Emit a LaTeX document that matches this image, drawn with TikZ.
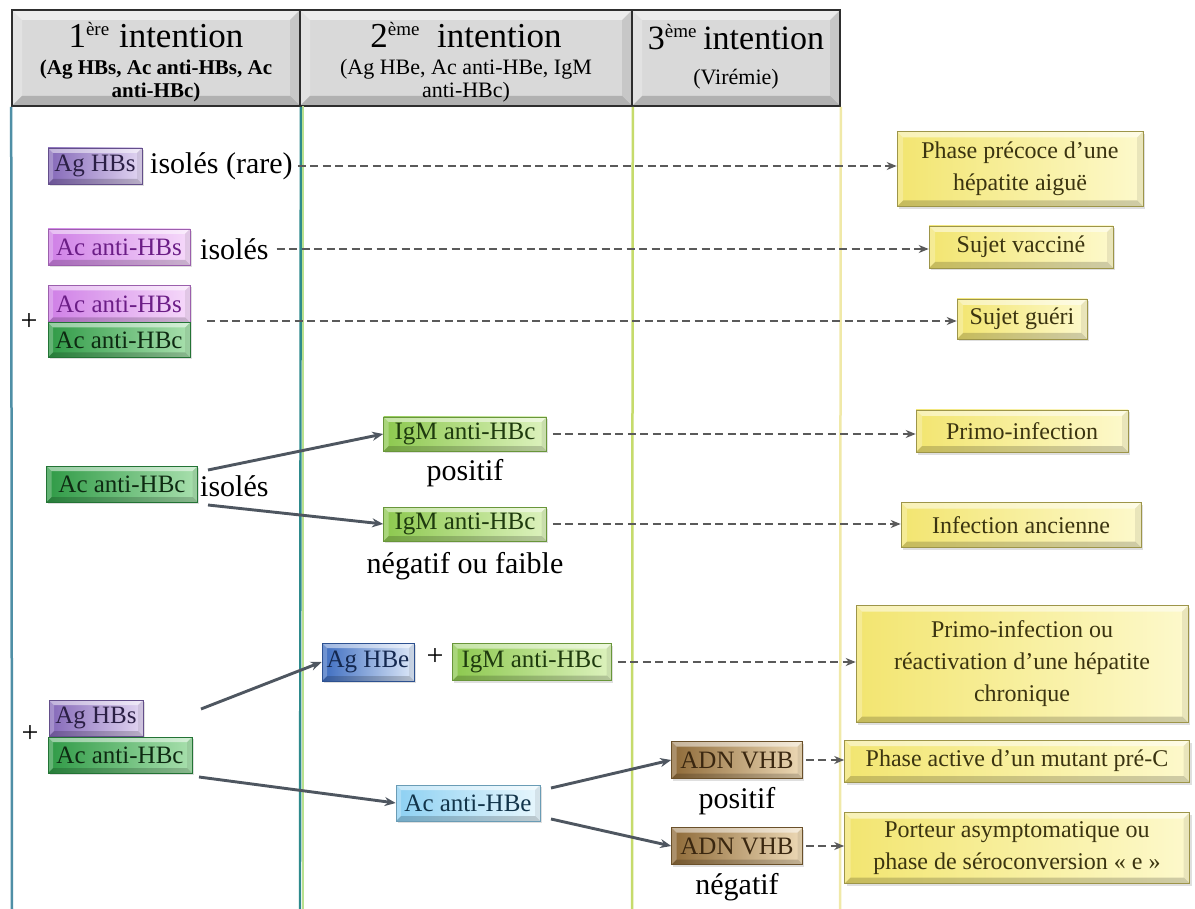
\documentclass[tikz,border=0pt]{standalone}
\usepackage{fontspec}
\usepackage{graphicx}
\setmainfont{Liberation Serif}
\usetikzlibrary{arrows.meta,shadows}

\definecolor{hdrgray}{HTML}{D9D9D9}
\definecolor{hdrline}{HTML}{2E2E2E}
\definecolor{purpL}{HTML}{8468B8}\definecolor{purpR}{HTML}{E2D6F2}\definecolor{purpT}{HTML}{2B1F45}
\definecolor{pinkL}{HTML}{CF7FE6}\definecolor{pinkR}{HTML}{F6DAFA}\definecolor{pinkT}{HTML}{6B1D86}
\definecolor{grnL}{HTML}{2F9A46}\definecolor{grnR}{HTML}{A9E0AE}\definecolor{grnT}{HTML}{0E2A12}
\definecolor{limeL}{HTML}{8CC84E}\definecolor{limeR}{HTML}{DDF2BE}\definecolor{limeT}{HTML}{1E3A0E}
\definecolor{bluL}{HTML}{3C6CC0}\definecolor{bluR}{HTML}{DDE8F8}\definecolor{bluT}{HTML}{14284F}
\definecolor{lbluL}{HTML}{8DD0F2}\definecolor{lbluR}{HTML}{E8F7FD}\definecolor{lbluT}{HTML}{12344A}
\definecolor{brnL}{HTML}{8E6A38}\definecolor{brnR}{HTML}{EDD9B6}\definecolor{brnT}{HTML}{3A2710}
\definecolor{yelL}{HTML}{F2E570}\definecolor{yelR}{HTML}{FDF9CC}\definecolor{yelT}{HTML}{3B3410}
\definecolor{lineA}{HTML}{4F8FA6}
\definecolor{lineB}{HTML}{2E8A8C}
\definecolor{lineBg}{HTML}{B9E08E}
\definecolor{lineC}{HTML}{C6DB6C}
\definecolor{lineD}{HTML}{F0E9A8}
\definecolor{arrg}{HTML}{5A5A5A}
\definecolor{arrs}{HTML}{4E5660}

\tikzset{
  bev/.style={path picture={
    \fill[white,opacity=.5] (path picture bounding box.north west) -- (path picture bounding box.north east) -- ([shift={(-#1,-#1)}]path picture bounding box.north east) -- ([shift={(#1,-#1)}]path picture bounding box.north west) -- cycle;
    \fill[white,opacity=.25] (path picture bounding box.north west) -- (path picture bounding box.south west) -- ([shift={(#1,#1)}]path picture bounding box.south west) -- ([shift={(#1,-#1)}]path picture bounding box.north west) -- cycle;
    \fill[black,opacity=.18] (path picture bounding box.south west) -- (path picture bounding box.south east) -- ([shift={(-#1,#1)}]path picture bounding box.south east) -- ([shift={(#1,#1)}]path picture bounding box.south west) -- cycle;
    \fill[black,opacity=.08] (path picture bounding box.north east) -- (path picture bounding box.south east) -- ([shift={(-#1,#1)}]path picture bounding box.south east) -- ([shift={(-#1,-#1)}]path picture bounding box.north east) -- cycle;
  }},
  bev/.default=5pt,
  hdr/.style={rectangle, fill=hdrgray, draw=hdrline, line width=1.6pt, minimum height=96pt, inner sep=0pt, bev=10pt},
  htitle/.style={anchor=base, inner sep=0pt, font=\fontsize{35}{40}\selectfont},
  hsubb/.style={anchor=base, inner sep=0pt, font=\fontsize{21}{23}\selectfont\bfseries},
  hsub/.style={anchor=base, inner sep=0pt, font=\fontsize{22}{24}\selectfont},
  tagbox/.style n args={3}{rectangle, left color=#1, right color=#2, draw=#1!75!black, line width=0.6pt, text=#3, inner sep=0pt, minimum height=36pt, font=\fontsize{25}{27}\selectfont, bev=5pt, drop shadow={opacity=.25, shadow xshift=1.5pt, shadow yshift=-2pt}},
  tagP/.style={tagbox={purpL}{purpR}{purpT}},
  tagK/.style={tagbox={pinkL}{pinkR}{pinkT}},
  tagG/.style={tagbox={grnL}{grnR}{grnT}},
  tagL/.style={tagbox={limeL}{limeR}{limeT}},
  tagB/.style={tagbox={bluL}{bluR}{bluT}},
  tagC/.style={tagbox={lbluL}{lbluR}{lbluT}},
  tagN/.style={tagbox={brnL}{brnR}{brnT}},
  res/.style={rectangle, left color=yelL, right color=yelR, draw=yelL!65!black, line width=0.6pt, text=yelT, inner sep=0pt, align=center, font=\fontsize{24}{32}\selectfont, bev=6pt, drop shadow={opacity=.25, shadow xshift=2pt, shadow yshift=-2.5pt}},
  free/.style={inner sep=0pt, font=\fontsize{30}{32}\selectfont, text=black},
  dsh/.style={draw=arrg, line width=2.8pt, dash pattern=on 8pt off 4.5pt, -{Stealth[length=10pt,width=8pt]}},
  sol/.style={draw=arrs, line width=2.9pt, -{Stealth[length=11pt,width=9pt]}},
}

\begin{document}
\begin{tikzpicture}[x=1pt,y=-1pt]
\useasboundingbox (0,0) rectangle (1195,909);
\fill[white] (0,0) rectangle (1195,909);

% column lines (free ends at the bottom)
\coordinate (b1) at (12,909);
\coordinate (b2) at (300,909);
\coordinate (b2g) at (302.6,909);
\coordinate (b3) at (632,909);
\coordinate (b4) at (840,909);
\coordinate (t2g) at (302.6,106);

% headers
\node[hdr, minimum width=288pt] (h1) at (156,58) {};
\node[hdr, minimum width=332pt] (h2) at (466,58) {};
\node[hdr, minimum width=208pt] (h3) at (736,58) {};
\node[htitle] (h1t) at (156,48) {1\raisebox{12pt}{\fontsize{19}{19}\selectfont ère}\hspace{0.28em}intention};
\node[hsubb] (h1a) at (156,75) {(Ag HBs, Ac anti-HBs, Ac};
\node[hsubb] (h1b) at (156,98) {anti-HBc)};
\node[htitle] (h2t) at (466,48) {2\raisebox{12pt}{\fontsize{19}{19}\selectfont ème}\hspace{0.5em}intention};
\node[hsub] (h2a) at (466,75) {(Ag HBe, Ac anti-HBe, IgM};
\node[hsub] (h2b) at (466,98) {anti-HBc)};
\node[htitle, font=\fontsize{34}{40}\selectfont] (h3t) at (736,50) {3\raisebox{12pt}{\fontsize{19}{19}\selectfont ème}\hspace{0.2em}intention};
\node[hsub] (h3a) at (736,85) {(Virémie)};

\draw[line width=2.5pt, draw=lineA] (h1.south west) -- (b1);
\draw[line width=2pt, draw=lineBg] (t2g) -- (b2g);
\draw[line width=2.4pt, draw=lineB] (h1.south east) -- (b2);
\draw[line width=2.5pt, draw=lineC] (h2.south east) -- (b3);
\draw[line width=2.5pt, draw=lineD] (h3.south east) -- (b4);

% row 1
\node[tagP, minimum width=94pt] (agHBs1) at (95,166) {Ag HBs};
\node[free, anchor=west] (t1) at (150,166) {isolés (rare)};
\node[res, minimum width=246pt, minimum height=75pt] (r1) at (1020,169) {Phase précoce d’une\\hépatite aiguë};
\draw[dsh, shorten <=5pt] (t1.east) -- (t1.east -| r1.west);

% row 2
\node[tagK, minimum width=142pt] (acHBs2) at (119,247) {Ac anti-HBs};
\node[free, anchor=west] (t2) at (200,249) {isolés};
\node[res, minimum width=184pt, minimum height=42pt] (r2) at (1021,247) {Sujet vacciné};
\draw[dsh, shorten <=8pt] (t2.east) -- (t2.east -| r2.west);

% row 3
\node[free] (p3) at (29,322) {+};
\node[tagK, minimum width=142pt, minimum height=37pt] (acHBs3) at (119,304) {Ac anti-HBs};
\node[tagG, minimum width=142pt, minimum height=35pt] (acHBc3) at (119,340) {Ac anti-HBc};
\node[res, minimum width=130pt, minimum height=40pt] (r3) at (1022,319) {Sujet guéri};
\coordinate (s3) at (207,321);
\draw[dsh] (s3) -- (s3 -| r3.west);

% row 4
\node[tagG, minimum width=151pt] (acHBc4) at (122,484) {Ac anti-HBc};
\node[free, anchor=west] (t4) at (200,486) {isolés};
\node[tagL, minimum width=163pt, minimum height=34pt] (igm1) at (465,434) {IgM anti-HBc};
\node[free] (pos1) at (465,473) {positif};
\node[tagL, minimum width=163pt, minimum height=34pt] (igm2) at (465,524) {IgM anti-HBc};
\node[free] (neg1) at (465,566) {négatif ou faible};
\node[res, minimum width=212pt, minimum height=42pt] (r4) at (1022,431) {Primo-infection};
\node[res, minimum width=240pt, minimum height=45pt] (r5) at (1021,525) {Infection ancienne};
\coordinate (a4) at (208,470);
\coordinate (c4) at (208,505);
\draw[sol] (a4) -- (igm1.west);
\draw[sol] (c4) -- (igm2.west);
\draw[dsh, shorten <=6pt] (igm1.east) -- (igm1.east -| r4.west);
\draw[dsh, shorten <=6pt] (igm2.east) -- (igm2.east -| r5.west);

% row 5
\node[free] (p5) at (30,734) {+};
\node[tagP, minimum width=94pt] (agHBs5) at (96,718) {Ag HBs};
\node[tagG, minimum width=144pt] (acHBc5) at (120,755) {Ac anti-HBc};
\node[tagB, minimum width=92pt, minimum height=38pt] (agHBe) at (368,662) {Ag HBe};
\node[free] (p6) at (435,657) {+};
\node[tagL, minimum width=159pt, minimum height=37pt] (igm3) at (532,662) {IgM anti-HBc};
\node[res, minimum width=332pt, minimum height=117pt] (r6) at (1022,664) {Primo-infection ou\\réactivation d’une hépatite\\chronique};
\draw[dsh, shorten <=6pt] (igm3.east) -- (igm3.east -| r6.west);
\node[tagC, minimum width=144pt, minimum height=36pt] (acHBe) at (468,803) {Ac anti-HBe};
\coordinate (a5) at (201,709);
\coordinate (c5) at (199,777);
\draw[sol] (a5) -- (agHBe.west);
\draw[sol] (c5) -- (acHBe.west);
\node[tagN, minimum width=131pt, minimum height=37pt] (adn1) at (737,760) {ADN VHB};
\node[free] (pos2) at (737,801) {positif};
\node[tagN, minimum width=131pt, minimum height=37pt] (adn2) at (737,846) {ADN VHB};
\node[free] (neg2) at (737,887) {négatif};
\node[res, minimum width=345pt, minimum height=42pt] (r7) at (1017,761) {Phase active d’un mutant pré-C};
\node[res, minimum width=345pt, minimum height=71pt] (r8) at (1017,848) {Porteur asymptomatique ou\\phase de séroconversion « e »};
\coordinate (d5) at (551,788);
\coordinate (e5) at (551,819);
\draw[sol] (d5) -- (adn1.west);
\draw[sol] (e5) -- (adn2.west);
\draw[dsh, shorten <=3pt] (adn1.east) -- (adn1.east -| r7.west);
\draw[dsh, shorten <=3pt] (adn2.east) -- (adn2.east -| r8.west);
\end{tikzpicture}
\end{document}
